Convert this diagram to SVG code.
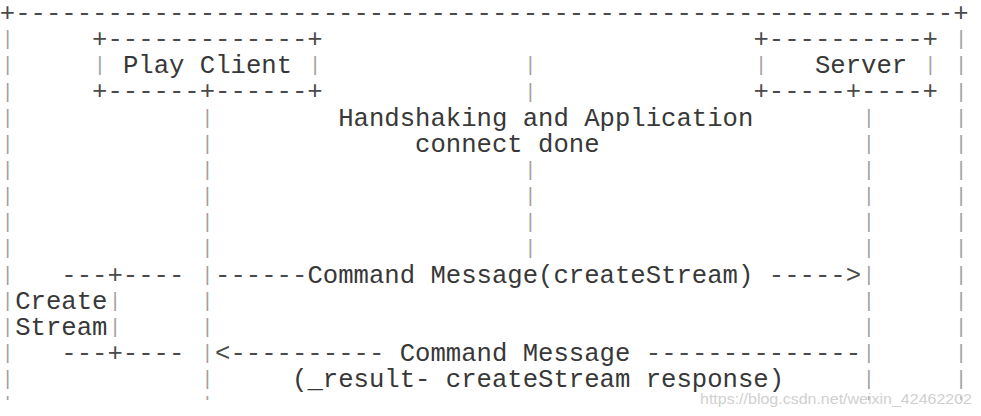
<svg xmlns="http://www.w3.org/2000/svg" width="981" height="416" viewBox="0 0 981 416" xml:space="preserve">
<style>
.t{font-family:"Liberation Mono","DejaVu Sans Mono",monospace;font-size:25.63px;fill:#383838;white-space:pre}
.d{fill:#4a4a4a}
.b{font-family:"Liberation Mono","DejaVu Sans Mono",monospace;font-size:19.5px;fill:#a0a0a0;text-anchor:middle}
.wm{font-family:"Liberation Sans",Arial,sans-serif;font-size:15.5px;fill:#d0d0d0}
</style>
<defs>
<clipPath id="cut"><rect x="0" y="0" width="981" height="400"/></clipPath>
</defs>
<rect x="0" y="0" width="981" height="416" fill="#ffffff"/>
<g clip-path="url(#cut)">
<g id="frame">
<text class="t d" x="-0.2" y="21">+-------------------------------------------------------------+</text>
<text class="b"><tspan x="7.5" y="45.2">|</tspan><tspan x="7.5" y="71.35">|</tspan><tspan x="7.5" y="97.5">|</tspan><tspan x="7.5" y="123.65">|</tspan><tspan x="7.5" y="149.8">|</tspan><tspan x="7.5" y="175.95">|</tspan><tspan x="7.5" y="202.1">|</tspan><tspan x="7.5" y="228.25">|</tspan><tspan x="7.5" y="254.4">|</tspan><tspan x="7.5" y="280.55">|</tspan><tspan x="7.5" y="359">|</tspan><tspan x="7.5" y="385.15">|</tspan><tspan x="7.5" y="411.3">|</tspan></text>
<text class="b"><tspan x="961.06" y="45.2">|</tspan><tspan x="961.06" y="71.35">|</tspan><tspan x="961.06" y="97.5">|</tspan><tspan x="961.06" y="123.65">|</tspan><tspan x="961.06" y="149.8">|</tspan><tspan x="961.06" y="175.95">|</tspan><tspan x="961.06" y="202.1">|</tspan><tspan x="961.06" y="228.25">|</tspan><tspan x="961.06" y="254.4">|</tspan><tspan x="961.06" y="280.55">|</tspan><tspan x="961.06" y="306.7">|</tspan><tspan x="961.06" y="332.85">|</tspan><tspan x="961.06" y="359">|</tspan><tspan x="961.06" y="385.15">|</tspan><tspan x="961.06" y="411.3">|</tspan></text>
</g>
<g id="play-client">
<text class="t d" x="92.08" y="47.15">+-------------+</text>
<text class="b" x="99.78" y="71.35">|</text>
<text class="t" x="122.9" y="73.3">Play Client</text>
<text class="b" x="315.1" y="71.35">|</text>
<text class="t d" x="92.08" y="99.45">+------+------+</text>
</g>
<g id="server">
<text class="t d" x="753.42" y="47.15">+----------+</text>
<text class="b" x="761.12" y="71.35">|</text>
<text class="t" x="814.95" y="73.3">Server</text>
<text class="b" x="930.3" y="71.35">|</text>
<text class="t d" x="753.42" y="99.45">+-----+----+</text>
</g>
<g id="create-stream">
<text class="t d" x="61.32" y="282.5">---+----</text>
<text class="b" x="7.5" y="306.7">|</text>
<text class="t" x="15.18" y="308.65">Create</text>
<text class="b" x="115.16" y="306.7">|</text>
<text class="b" x="7.5" y="332.85">|</text>
<text class="t" x="15.18" y="334.8">Stream</text>
<text class="b" x="115.16" y="332.85">|</text>
<text class="t d" x="61.32" y="360.95">---+----</text>
</g>
<g id="connectors">
<text id="center-line" class="b"><tspan x="530.42" y="71.35">|</tspan><tspan x="530.42" y="97.5">|</tspan><tspan x="530.42" y="175.95">|</tspan><tspan x="530.42" y="202.1">|</tspan><tspan x="530.42" y="228.25">|</tspan><tspan x="530.42" y="254.4">|</tspan></text>
<text id="client-lifeline" class="b"><tspan x="207.44" y="123.65">|</tspan><tspan x="207.44" y="149.8">|</tspan><tspan x="207.44" y="175.95">|</tspan><tspan x="207.44" y="202.1">|</tspan><tspan x="207.44" y="228.25">|</tspan><tspan x="207.44" y="254.4">|</tspan><tspan x="207.44" y="280.55">|</tspan><tspan x="207.44" y="306.7">|</tspan><tspan x="207.44" y="332.85">|</tspan><tspan x="207.44" y="359">|</tspan><tspan x="207.44" y="385.15">|</tspan><tspan x="207.44" y="411.3">|</tspan></text>
<text id="server-lifeline" class="b"><tspan x="868.78" y="123.65">|</tspan><tspan x="868.78" y="149.8">|</tspan><tspan x="868.78" y="175.95">|</tspan><tspan x="868.78" y="202.1">|</tspan><tspan x="868.78" y="228.25">|</tspan><tspan x="868.78" y="254.4">|</tspan><tspan x="868.78" y="280.55">|</tspan><tspan x="868.78" y="306.7">|</tspan><tspan x="868.78" y="332.85">|</tspan><tspan x="868.78" y="359">|</tspan><tspan x="868.78" y="385.15">|</tspan><tspan x="868.78" y="411.3">|</tspan></text>
<g id="msg-create-stream">
<text class="t d" x="215.12" y="282.5">------</text>
<text class="t" x="307.4" y="282.5">Command Message(createStream)</text>
<text class="t d" x="768.8" y="282.5">-----&gt;</text>
</g>
<g id="msg-result">
<text class="t d" x="215.12" y="360.95">&lt;----------</text>
<text class="t" x="399.68" y="360.95">Command Message</text>
<text class="t d" x="645.76" y="360.95">--------------</text>
</g>
</g>
<g id="labels">
<text class="t" x="338.16" y="125.6">Handshaking and Application</text>
<text class="t" x="415.06" y="151.75">connect done</text>
<text class="t" x="292.02" y="387.1">(_result- createStream response)</text>
</g>
</g>
<text class="wm" x="700" y="404" textLength="272" lengthAdjust="spacingAndGlyphs">https://blog.csdn.net/weixin_42462202</text>
</svg>
